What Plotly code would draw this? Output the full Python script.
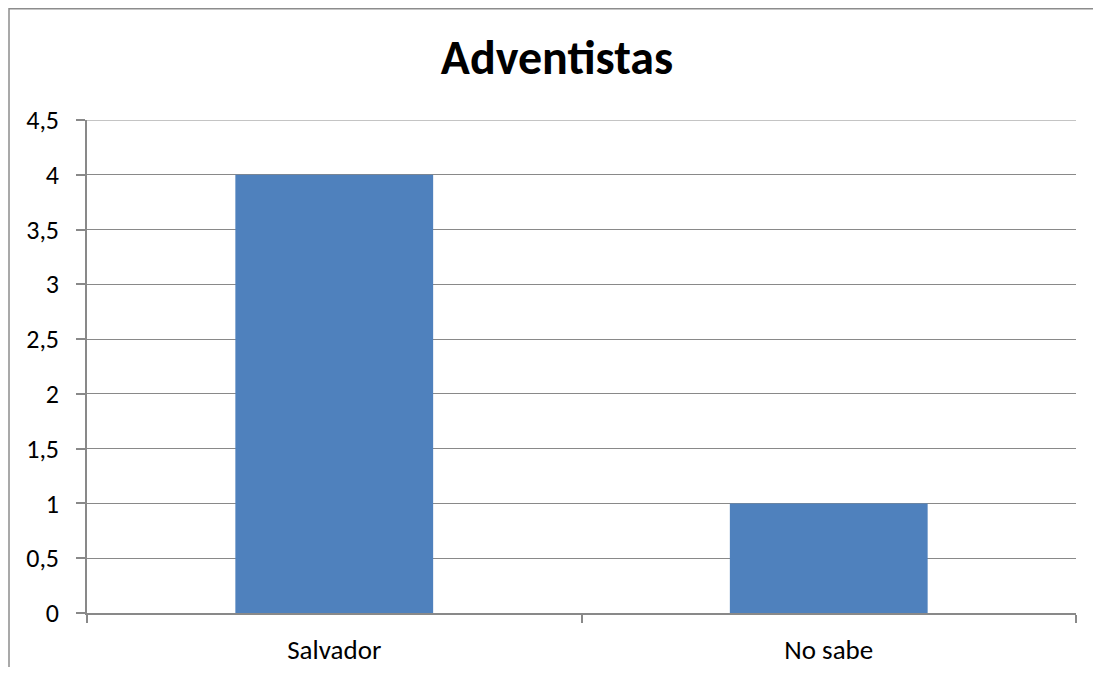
import plotly.graph_objects as go

categories = ["Salvador", "No sabe"]
values = [4, 1]
title_text = "Adventistas"
y_ticks = [0, 0.5, 1, 1.5, 2, 2.5, 3, 3.5, 4, 4.5]

# page body has an 8px margin; figure is sized to fit the window without scrolling
W, H = 1093, 659
L, R, T, B = 79, 25, 112, 54
pw, ph = W - L - R, H - T - B

def px_x(px):
    return (px - L) / pw

def px_y(py):
    return (H - B - py) / ph

grid = "#898989"
font_family = "Carlito, Calibri, 'Noto Sans', sans-serif"

fig = go.Figure(go.Bar(x=categories, y=values, marker=dict(color="#4F81BD", line=dict(width=0)), width=0.4))

fig.update_layout(
    width=W, height=H,
    margin=dict(l=L, r=R, t=T, b=B, autoexpand=False),
    paper_bgcolor="white", plot_bgcolor="white",
    separators=", ",
    font=dict(family=font_family, color="black", size=27),
    title=dict(text="<b>" + title_text + "</b>", x=549 / W, xanchor="center",
               y=1 - 49 / H, yanchor="middle", font=dict(size=48, color="black")),
    showlegend=False,
)
fig.update_yaxes(range=[0, 4.5], tickvals=y_ticks, showgrid=True, gridcolor=grid, gridwidth=1,
                 showline=True, linecolor=grid, linewidth=1.5, ticks="outside", ticklen=9,
                 tickcolor=grid, tickwidth=1.5, ticklabelstandoff=12, zeroline=False,
                 tickfont=dict(size=26), automargin=False)
fig.update_xaxes(showline=True, linecolor=grid, linewidth=1.5, ticks="outside", ticklen=8,
                 tickcolor=grid, tickwidth=1.5, tickson="boundaries", showgrid=False,
                 ticklabelstandoff=12, tickfont=dict(size=27), automargin=False)

# top gridline (hidden by plotly at the range edge)
fig.add_shape(type="line", xref="paper", yref="y", x0=0, x1=1, y0=y_ticks[-1], y1=y_ticks[-1],
              line=dict(color=grid, width=1))

# chart border: left and top edges visible in the frame
border = dict(color="#8c8c8c", width=1.5)
fig.add_shape(type="line", xref="paper", yref="paper",
              x0=px_x(1), x1=px_x(1), y0=px_y(0), y1=px_y(H), line=border)
fig.add_shape(type="line", xref="paper", yref="paper",
              x0=px_x(1), x1=px_x(W), y0=px_y(0.75), y1=px_y(0.75), line=border)

fig.write_html("out.html", config={"displayModeBar": False})
